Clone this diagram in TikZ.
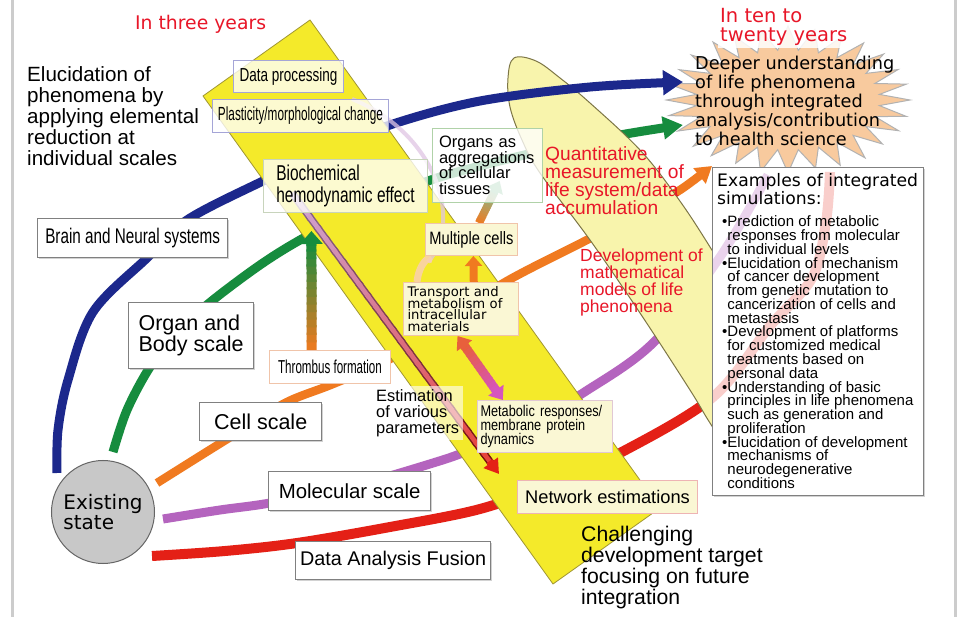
\documentclass[tikz,border=0pt]{standalone}
\usepackage{fontspec}
\setmainfont{Liberation Sans}
\newfontfamily\dvsans{DejaVu Sans}
\newfontfamily\condA[FakeStretch=0.72]{Liberation Sans}
\newfontfamily\condB[FakeStretch=0.62]{Liberation Sans}
\newfontfamily\condC[FakeStretch=0.82]{Liberation Sans}
\usetikzlibrary{arrows.meta,calc,shadows}

\pgfdeclarelayer{back}
\pgfdeclarelayer{mid}
\pgfsetlayers{back,mid,main}

% font size with a fixed line pitch
\newcommand\fsz[2]{\fontsize{#1}{#2}\selectfont\lineskiplimit=-100pt\lineskip=0pt\relax}

\definecolor{navy}{RGB}{28,40,140}
\definecolor{arcgreen}{RGB}{22,140,62}
\definecolor{arcorange}{RGB}{240,122,32}
\definecolor{arcpurple}{RGB}{180,100,190}
\definecolor{arcred}{RGB}{228,32,22}
\definecolor{bandyellow}{RGB}{244,234,42}
\definecolor{bandedge}{RGB}{160,150,50}
\definecolor{ellfill}{RGB}{248,244,172}
\definecolor{elledge}{RGB}{125,118,70}
\definecolor{burst}{RGB}{248,202,158}
\definecolor{redtext}{RGB}{232,22,40}
\definecolor{paleyellow}{RGB}{250,247,212}
\definecolor{lavedge}{RGB}{165,165,215}
\definecolor{peachedge}{RGB}{240,196,170}
\definecolor{greenedge}{RGB}{176,210,168}
\definecolor{biogreen}{RGB}{200,212,188}
\definecolor{metedge}{RGB}{225,200,212}
\definecolor{pinkedge}{RGB}{238,180,180}
\definecolor{mauve}{RGB}{196,150,206}
\definecolor{boxgray}{RGB}{128,128,128}
\definecolor{circgray}{RGB}{200,200,200}
\definecolor{dbltop}{RGB}{232,96,60}
\definecolor{dblbot}{RGB}{214,84,190}

% the five scale arcs, drawn from the existing state towards the goal
\newcommand\bluearc[1]{\draw[#1] plot[smooth,tension=.55] coordinates {(57,473) (58,430) (68,380) (93,312) (147,258) (187,220) (263,181) (330,150) (393,124) (480,101) (590,87) (683,82)};}
\newcommand\greenarc[1]{\draw[#1] plot[smooth,tension=.55] coordinates {(113,452) (127,410) (150,367) (178,331) (213,300) (260,265) (300,240) (360,208) (428,181) (480,166) (542,151) (620,135) (683,125)};}
\newcommand\orangearc[1]{\draw[#1] plot[smooth,tension=.55] coordinates {(157,483) (200,456) (245,428) (287,402) (333,384) (390,359) (450,318) (507,281) (583,242) (640,213) (680,190) (712,166)};}
\newcommand\purplearc[1]{\draw[#1] plot[smooth,tension=.55] coordinates {(163,519) (220,510) (270,503) (350,487) (433,463) (470,450) (530,424) (583,393) (653,343) (720,257) (768,175)};}
\newcommand\redarc[1]{\draw[#1] plot[smooth,tension=.55] coordinates {(152,556) (225,551) (297,543) (390,527) (480,509) (550,484) (620,453) (713,397) (770,326) (812,278) (826,222) (830,172)};}

% straight line whose colour runs from #3 to #4
\newcommand\gradline[6]{%
  \foreach \k in {1,...,#6}{%
    \pgfmathsetmacro\ga{(\k-1)/#6}%
    \pgfmathsetmacro\gb{min(1,(\k+0.3)/#6)}%
    \pgfmathsetmacro\gm{100*(\k-0.5)/#6}%
    \draw[line width=#5, draw={#4!\gm!#3}] ($(#1)!\ga!(#2)$) -- ($(#1)!\gb!(#2)$);
  }%
}
% colour-graded arrow: from, to, start colour, end colour, width, tip length, tip width, tip base name
\newcommand\gradarrow[8]{%
  \coordinate (#8) at ($(#2)!#6!(#1)$);
  \gradline{#1}{#8}{#3}{#4}{#5}{14}
  \draw[line width=#5, draw=#4, -{Triangle[length=#6,width=#7]}] ($(#2)!#6+2pt!(#1)$) -- (#2);
}

\begin{document}
\begin{tikzpicture}[x=1pt, y=-1pt,
  arc/.style={line width=9pt},
  levelbox/.style={draw=boxgray, line width=1.3pt, fill=white, inner sep=0pt, anchor=north west,
    drop shadow={shadow xshift=1.2pt, shadow yshift=-1.2pt, opacity=.35, fill=black!50}},
  bandbox/.style={line width=1pt, inner sep=0pt, anchor=north west},
  glassbox/.style={bandbox, fill=white, fill opacity=.78, text opacity=1},
  solidbox/.style={bandbox, fill=paleyellow},
  plain/.style={inner sep=0pt, anchor=north west, align=left},
  redlabel/.style={plain, text=redtext},
  sideline/.style={line width=3pt, draw=black!20},
]
\useasboundingbox (0,0) rectangle (959,617);

% ---------- boxes and labels ----------
\node[glassbox, draw=lavedge, minimum width=110, minimum height=32, font=\condA\fsz{18.8}{20}] (dataproc) at (233,60) {Data processing};
\node[glassbox, draw=lavedge, minimum width=176, minimum height=33, font=\condB\fsz{19}{20}] (plast) at (212,99) {Plasticity/morphological change};
\node[glassbox, draw=biogreen, minimum width=164, minimum height=53, align=left, font=\condA\fsz{21.5}{22}] (bio) at (263,159) {Biochemical\\hemodynamic effect};
\node[glassbox, draw=greenedge, minimum width=110, minimum height=74, text width=97, inner xsep=6.5, align=left, font=\fsz{16.5}{15.5}] (organs) at (432,128) {Organs as\\aggregations\\of cellular\\tissues};
\node[solidbox, draw=peachedge, minimum width=92, minimum height=32, font=\condC\fsz{17.9}{19}] (multi) at (425,223) {Multiple cells};
\node[solidbox, draw=peachedge, minimum width=115, minimum height=53, text width=107, inner xsep=4, align=left, font=\dvsans\fsz{13.2}{11.6}] (transport) at (403,282) {Transport and\\metabolism of\\intracellular\\materials};
\node[plain, fill=white, fill opacity=.6, text opacity=1, minimum width=91, minimum height=54, font=\fsz{16.4}{15.9}] (estim) at (372,386) {Estimation\\of various\\parameters};
\node[solidbox, draw=metedge, minimum width=135, minimum height=52, text width=129, inner xsep=3, align=left, font=\condC\fsz{15.5}{14}] (metab) at (477,400) {Metabolic responses/\\membrane protein\\dynamics};
\node[solidbox, draw=pinkedge, minimum width=180, minimum height=33, font=\fsz{18.3}{19}] (network) at (517,480) {Network estimations};
\node[bandbox, fill=white, draw=peachedge, minimum width=121, minimum height=33, font=\condB\fsz{18.7}{19}] (thromb) at (269,350) {Thrombus formation};

\node[levelbox, minimum width=190, minimum height=39, font=\condA\fsz{21.2}{22}] (brain) at (37,218) {Brain and Neural systems};
\node[levelbox, minimum width=125, minimum height=66, align=left, font=\fsz{21.5}{21}] (organ) at (128,302) {Organ and\\Body scale};
\node[levelbox, minimum width=122, minimum height=38, font=\fsz{21.5}{22}] (cell) at (199,402) {Cell scale};
\node[levelbox, minimum width=162, minimum height=39, font=\fsz{20.4}{21}] (molec) at (268,471) {Molecular scale};
\node[levelbox, minimum width=195, minimum height=38, font=\fsz{19.8}{21}] (fusion) at (295,541) {Data Analysis Fusion};

\node[circle, minimum size=103, inner sep=0pt, fill=circgray, draw=black!60, line width=1pt, align=left, font=\dvsans\fsz{20}{20.7}] (exist) at (103,512) {Existing\\state};

% examples panel; the arcs show faintly through it
\node[levelbox, minimum width=211, minimum height=328] (examples) at (712,167) {};
\begin{scope}
  \clip ($(examples.north west)+(1,1)$) rectangle ($(examples.south east)+(-1,-1)$);
  \purplearc{arc, arcpurple, opacity=.28}
  \redarc{arc, line width=10pt, arcred, opacity=.22}
\end{scope}
\node[plain, font=\dvsans\fsz{17.2}{17.4}] (extitle) at (717,173.4) {Examples of integrated\\simulations:};
\newcommand\ind{\hphantom{•}}
\node[plain, font=\fsz{15}{13.77}] (exlist) at (722,215.7) {•Prediction of metabolic\\\ind responses from molecular\\\ind to individual levels\\•Elucidation of mechanism\\\ind of cancer development\\\ind from genetic mutation to\\\ind cancerization of cells and\\\ind metastasis\\•Development of platforms\\\ind for customized medical\\\ind treatments based on\\\ind personal data\\•Understanding of basic\\\ind principles in life phenomena\\\ind such as generation and\\\ind proliferation\\•Elucidation of development\\\ind mechanisms of\\\ind neurodegenerative\\\ind conditions};

% free text
\node[plain, font=\fsz{20.6}{21}] (elucid) at (27,66) {Elucidation of\\phenomena by\\applying elemental\\reduction at\\individual scales};
\node[plain, font=\dvsans\fsz{17.7}{19.1}] (deeper) at (695,55.8) {Deeper understanding\\of life phenomena\\through integrated\\analysis/contribution\\to health science};
\node[plain, font=\fsz{21.2}{21}] (challenge) at (581,526.2) {Challenging\\development target\\focusing on future\\integration};
\node[anchor=base west, inner sep=0pt, font=\dvsans\fsz{18.8}{20}, text=redtext] (three) at (135,29.3) {In three years};
\node[redlabel, inner sep=2pt, fill=white, fill opacity=.85, text opacity=1, font=\dvsans\fsz{19.5}{19}] (tenyears) at (718,6.5) {In ten to\\twenty years};
\node[redlabel, font=\fsz{19.2}{18}] (quant) at (545,146.8) {Quantitative\\measurement of\\life system/data\\accumulation};
\node[redlabel, font=\fsz{17.5}{16.8}] (devel) at (580,248.9) {Development of\\mathematical\\models of life\\phenomena};

% ---------- arrows inside the band ----------
\begin{pgfonlayer}{mid}
  % faint feedback curve
  \coordinate (cvA) at (352,99);
  \coordinate (cvB) at (428,262);
  \draw[line width=4pt, draw=mauve!55!white, opacity=.75] (cvA) .. controls (440,135) and (462,225) .. (cvB);
  \draw[line width=7pt, draw=arcorange!35!white, opacity=.85] ($(transport.north west)+(14,0)$) .. controls (419,262) and (432,254) .. (cvB);

  % long arrow towards the network estimations
  \coordinate (laS) at (292,193);
  \coordinate (laE) at (499,474);
  \coordinate (laT) at ($(laE)!13pt!(laS)$);
  \gradline{laS}{laT}{mauve!70!black}{arcred!75!black}{7.5pt}{24}
  \gradline{laS}{laT}{mauve!85!white}{arcred}{4.5pt}{24}
  \draw[line width=7pt, draw=arcred, -{Triangle[length=14pt,width=17pt]}] ($(laE)!16pt!(laS)$) -- (laE);

  % thrombus formation up to the organ arc
  \coordinate (thrA) at ($(thromb.north west)!0.35!(thromb.north east)$);
  \coordinate (thrB) at (311.4,231);
  \gradarrow{thrA}{thrB}{arcorange}{arcgreen}{10pt}{13pt}{22pt}{thrT}

  % transport -> multiple cells
  \coordinate (tmA) at ($(transport.north west)!0.61!(transport.north east)$);
  \coordinate (tmB) at ($(multi.south west)!0.52!(multi.south east)$);
  \draw[line width=8pt, draw=arcorange, -{Triangle[length=10pt,width=17pt]}] (tmA) -- (tmB);

  % multiple cells -> organs
  \coordinate (moA) at ($(multi.north west)!0.58!(multi.north east)$);
  \coordinate (moB) at ($(organs.south west)!0.61!(organs.south east)+(0,-22)$);
  \gradarrow{moA}{moB}{arcorange}{arcgreen!55!white}{8pt}{11pt}{17pt}{moT}

  % transport <-> metabolic responses
  \coordinate (dA) at ($(transport.south west)!0.47!(transport.south east)$);
  \coordinate (dB) at ($(metab.north west)!0.19!(metab.north east)$);
  \coordinate (dA2) at ($(dA)!12pt!(dB)$);
  \coordinate (dB2) at ($(dB)!12pt!(dA)$);
  \gradline{dA2}{dB2}{dbltop}{dblbot}{9pt}{12}
  \draw[line width=9pt, draw=dbltop, -{Triangle[length=12pt,width=18pt]}] ($(dA)!14pt!(dB)$) -- (dA);
  \draw[line width=9pt, draw=dblbot, -{Triangle[length=12pt,width=18pt]}] ($(dB)!14pt!(dA)$) -- (dB);
\end{pgfonlayer}

% ---------- background: burst, arcs, long oval, band ----------
\begin{pgfonlayer}{back}
  \fill[white] (0,0) rectangle (959,617);
  \draw[sideline] (12,0) -- (12,617);
  \draw[sideline] (955,0) -- (955,617);

  \draw[fill=burst, draw=gray!60, line width=1pt]
    plot[variable=\t, samples at={0,...,55}]
    ({788+(92+30*mod(\t+1,2)*(1+0.06*sin(\t*97)))*cos(\t*6.42857)},
     {100+(50+22*mod(\t+1,2)*(1+0.1*sin(\t*53)))*sin(\t*6.42857)}) -- cycle;

  \greenarc{arc, arcgreen, -{Triangle[length=20pt,width=22pt]}}
  \orangearc{arc, line width=8.5pt, arcorange, -{Triangle[length=16pt,width=19pt]}}
  \purplearc{arc, arcpurple}
  \redarc{arc, line width=10pt, arcred}

  % long oval; its lower end lies under the examples panel
  \draw[fill=ellfill, draw=elledge, line width=1pt]
    plot[smooth cycle, tension=.6] coordinates {(514,58) (536,61) (560,78) (590,103) (640,150)
      (677,197) (710,247) (760,330) (790,420) (772,482) (740,468) (710,423) (690,390)
      (640,313) (590,240) (540,173) (522,140) (510,107) (508,78)};

  \bluearc{arc, navy, -{Triangle[length=20pt,width=24pt]}}

  \draw[fill=bandyellow, draw=bandedge, line width=.8pt]
    (310,20) -- (660,508) -- (553,584) -- (203,96) -- cycle;
\end{pgfonlayer}
\end{tikzpicture}
\end{document}
